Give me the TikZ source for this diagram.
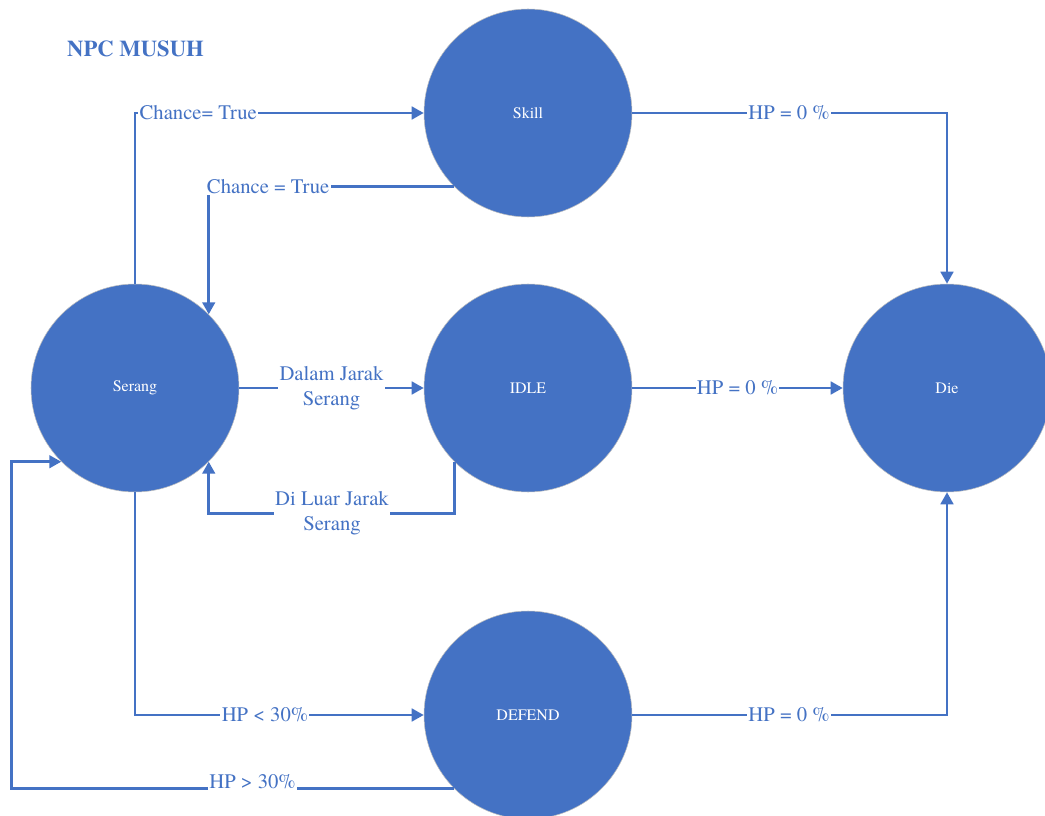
\documentclass[tikz,border=0pt]{standalone}
\usepackage{fontspec}
\setmainfont{texgyretermes}[Extension=.otf, UprightFont=*-regular, BoldFont=*-bold]
\usetikzlibrary{arrows.meta,calc}
\definecolor{nblue}{HTML}{4472C4}
\begin{document}
\begin{tikzpicture}[x=0.75pt,y=-0.75pt,
  state/.style={circle, fill=nblue, draw=black!25, line width=0.4pt, minimum size=156pt, inner sep=0pt, text=white, font=\fontsize{12}{14}\selectfont},
  conn/.style={draw=nblue, line width=2pt, -{Triangle[length=9pt,width=9.5pt]}},
  lbl/.style={fill=white, text=nblue, inner sep=1pt, font=\fontsize{15.5}{18.5}\selectfont, align=center}]
\clip (0,0) rectangle (1045,816);
\node[state] (skill) at (528,113) {Skill};
\node[state] (serang) at (135,388) {Serang};
\node[state] (idle) at (528,388) {IDLE};
\node[state] (die) at (947,388) {Die};
\node[state] (defend) at (528,715) {DEFEND};
\node[text=nblue, font=\bfseries\fontsize{17}{20}\selectfont] (title) at (135.5,49) {NPC MUSUH};

\draw[conn] (serang.north) |- (skill.west) node[lbl, pos=0.5, anchor=west, xshift=1.5pt] {Chance= True};
\draw[conn] (skill.225) -| (serang.45) node[lbl, pos=0.379] {Chance = True};
\draw[conn] (serang.east) -- (idle.west) node[lbl, midway] {Dalam Jarak\\Serang};
\draw[conn] (idle.225) -- ++(0,51.5) -| (serang.-45) node[lbl, pos=0.249] {Di Luar Jarak\\Serang};
\draw[conn] (idle.east) -- (die.west) node[lbl, midway] {HP = 0 \%};
\draw[conn] (skill.east) -| (die.north) node[lbl, pos=0.249] {HP = 0 \%};
\draw[conn] (serang.south) |- (defend.west) node[lbl, pos=0.725] {HP < 30\%};
\draw[conn] (defend.east) -| (die.south) node[lbl, pos=0.249] {HP = 0 \%};
\draw[conn] (defend.225) -| ($(serang.225)+(-49.5,0)$) node[lbl, pos=0.228, yshift=5pt] {HP > 30\%} -- (serang.225);
\end{tikzpicture}
\end{document}
